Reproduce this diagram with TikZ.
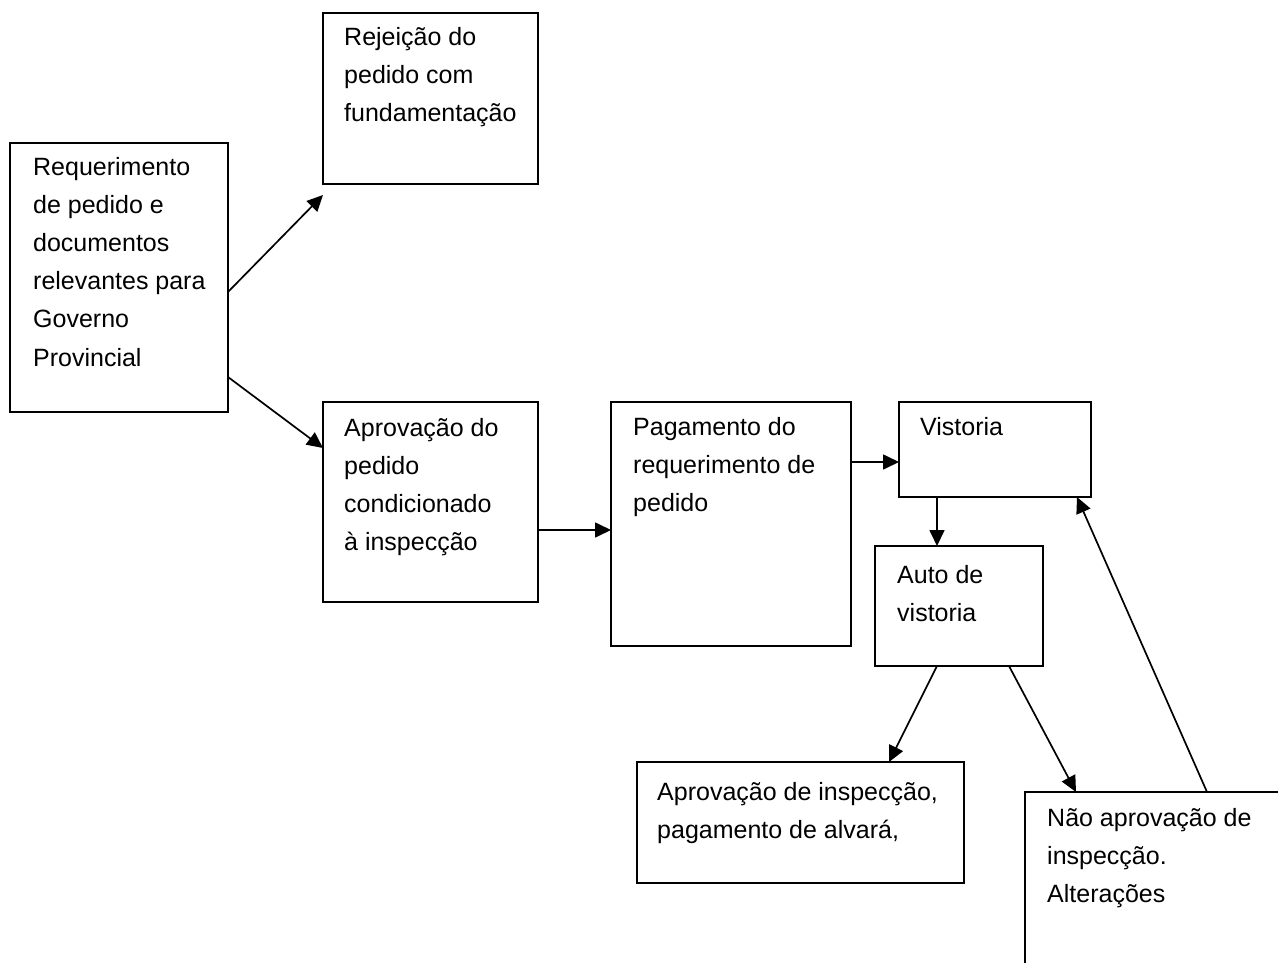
\documentclass[tikz,border=0pt]{standalone}
\usepackage{fontspec}
\setmainfont{Liberation Sans}
\usetikzlibrary{arrows.meta,calc}
\begin{document}
\begin{tikzpicture}[x=1pt,y=-1pt,
  box/.style={draw,line width=2pt,anchor=north west,inner sep=0pt,outer sep=0pt},
  txt/.style={anchor=base west,align=left,inner sep=0pt,font=\fontsize{25}{38.2}\selectfont},
  arr/.style={line width=1.7pt,-{Triangle[length=16pt,width=15pt]}}]
\clip (0,0) rectangle (1278,962);
\fill[white] (0,0) rectangle (1278,962);
% boxes
\node[box,minimum width=218pt,minimum height=269pt] (req) at (10,143) {};
\node[box,minimum width=215pt,minimum height=171pt] (rej) at (323,13) {};
\node[box,minimum width=215pt,minimum height=200pt] (apr) at (323,402) {};
\node[box,minimum width=240pt,minimum height=244pt] (pag) at (611,402) {};
\node[box,minimum width=192pt,minimum height=95pt] (vis) at (899,402) {};
\node[box,minimum width=168pt,minimum height=120pt] (aut) at (875,546) {};
\node[box,minimum width=327pt,minimum height=121pt] (ai) at (637,762) {};
\node[box,minimum width=300pt,minimum height=300pt] (nao) at (1025,792) {};
% texts (base anchor = baseline of the last line)
\node[txt] (reqt) at ($(req.north west)+(23,223)$) {Requerimento\\de pedido e\\documentos\\relevantes para\\Governo\\Provincial};
\node[txt] (rejt) at ($(rej.north west)+(21,108.4)$) {Rejeição do\\pedido com\\fundamentação};
\node[txt] (aprt) at ($(apr.north west)+(21,148.6)$) {Aprovação do\\pedido\\condicionado\\à inspecção};
\node[txt] (pagt) at ($(pag.north west)+(22,109.4)$) {Pagamento do\\requerimento de\\pedido};
\node[txt] (vist) at ($(vis.north west)+(21,33)$) {Vistoria};
\node[txt] (autt) at ($(aut.north west)+(22,75.2)$) {Auto de\\vistoria};
\node[txt] (ait) at ($(ai.north west)+(20,76.2)$) {Aprovação de inspecção,\\pagamento de alvará,};
\node[txt] (naot) at ($(nao.north west)+(22,110.4)$) {Não aprovação de\\inspecção.\\Alterações};
% connectors
\draw[arr] ($(req.north east)+(0,149)$) -- ($(rej.south west)+(0,11)$);
\draw[arr] ($(req.north east)+(0,234)$) -- ($(apr.north west)+(0,46)$);
\draw[arr] ($(apr.north east)+(0,128)$) -- ($(pag.north west)+(0,128)$);
\draw[arr] ($(pag.north east)+(0,60)$) -- ($(vis.north west)+(0,60)$);
\draw[arr] ($(vis.south west)+(38,0)$) -- ($(aut.north west)+(62,0)$);
\draw[arr] ($(aut.south west)+(62,0)$) -- ($(ai.north west)+(252,0)$);
\draw[arr] ($(aut.south west)+(134,0)$) -- ($(nao.north west)+(51,0)$);
\draw[arr] ($(nao.north west)+(182,0)$) -- ($(vis.south east)+(-14,0)$);
\end{tikzpicture}
\end{document}
